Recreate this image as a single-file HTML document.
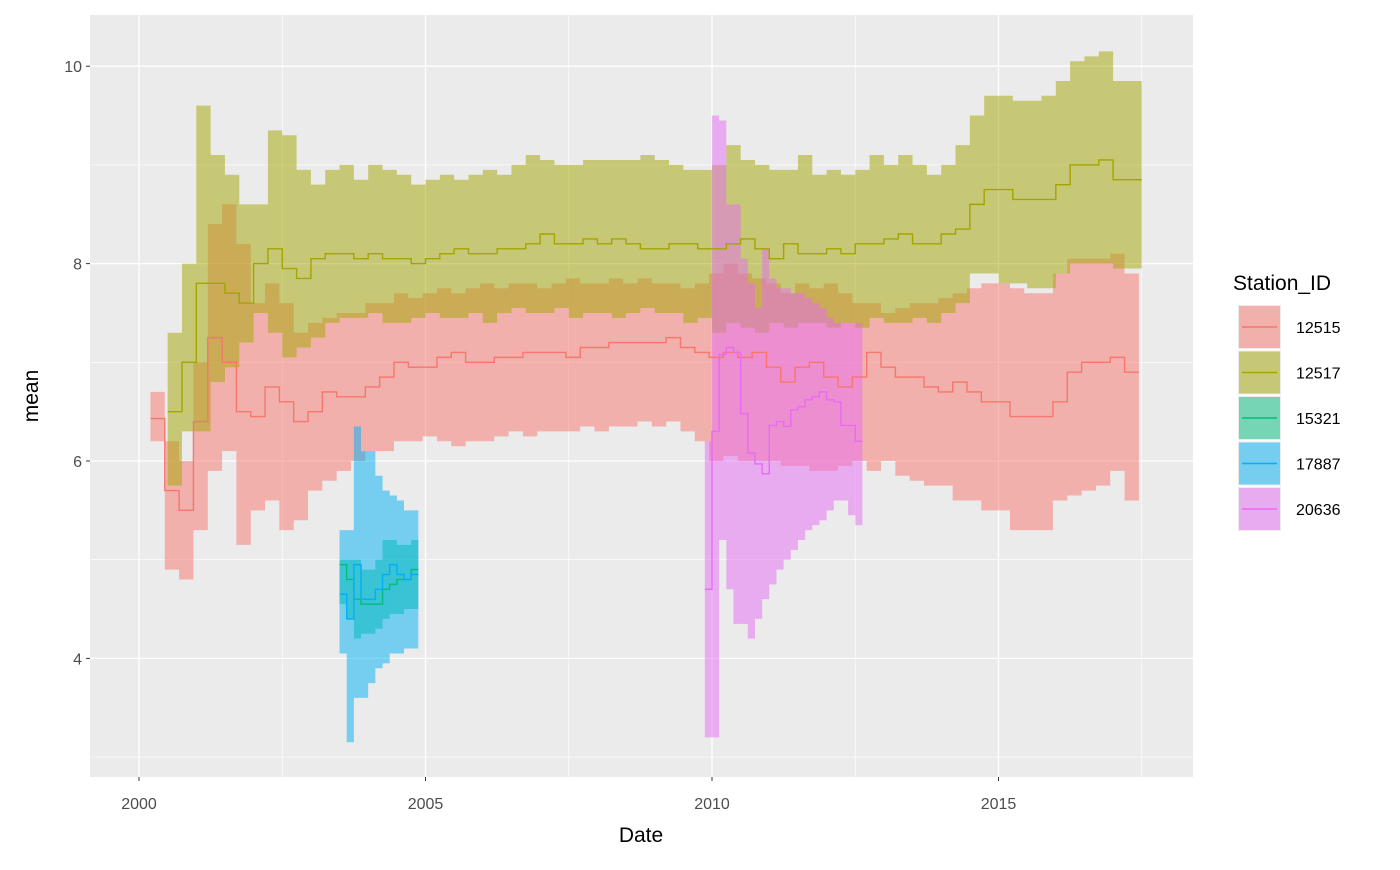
<!DOCTYPE html>
<html><head><meta charset="utf-8"><style>
body{margin:0;background:#fff;}
svg text{font-family:"Liberation Sans",Arial,sans-serif;}
</style></head><body>
<svg id="chart" width="1400" height="865" xmlns="http://www.w3.org/2000/svg">
<rect x="0" y="0" width="1400" height="865" fill="#fff"/>
<rect x="90" y="15" width="1103" height="762" fill="#EBEBEB"/>
<g id="grid"></g>
<g id="ribbons"></g>
<g id="lines"></g>
<g id="axes"></g>
<g id="legend"></g>
</svg>
<script>
const yTicks=[4,6,8,10];
const yMinor=[3,5,7,9];
const xTicks=[2000,2005,2010,2015];
const xMinor=[2002.5,2007.5,2012.5,2017.5];
const stations=["12515","12517","15321","17887","20636"];
const colors=["#F8766D","#A3A500","#00BF7D","#00B0F6","#E76BF3"];
const starts=[2000.2,2000.5,2003.5,2003.5,2009.875];
const steps=[0.25,0.25,0.125,0.125,0.125];
const mean12515=[6.43,5.7,5.5,6.4,7.25,7.0,6.5,6.45,6.75,6.6,6.4,6.5,6.7,6.65,6.65,6.75,6.85,7.0,6.95,6.95,7.05,7.1,7.0,7.0,7.05,7.05,7.1,7.1,7.1,7.05,7.15,7.15,7.2,7.2,7.2,7.2,7.25,7.15,7.1,7.05,7.1,7.05,7.1,6.95,6.8,6.95,7.0,6.85,6.75,6.85,7.1,6.95,6.85,6.85,6.75,6.7,6.8,6.7,6.6,6.6,6.45,6.45,6.45,6.6,6.9,7.0,7.0,7.05,6.9];
const hi12515=[6.7,6.2,6.0,7.0,8.4,8.6,8.2,7.6,7.8,7.6,7.3,7.4,7.45,7.5,7.5,7.6,7.6,7.7,7.65,7.7,7.75,7.7,7.75,7.8,7.75,7.8,7.8,7.75,7.8,7.85,7.8,7.8,7.85,7.8,7.85,7.8,7.8,7.75,7.8,7.9,8.0,7.9,7.85,7.8,7.7,7.8,7.75,7.8,7.7,7.6,7.6,7.5,7.55,7.6,7.6,7.65,7.7,7.75,7.8,7.8,7.75,7.7,7.7,7.9,8.05,8.05,8.05,8.1,7.9];
const lo12515=[6.2,4.9,4.8,5.3,5.9,6.1,5.15,5.5,5.6,5.3,5.4,5.7,5.8,5.9,6.0,6.1,6.1,6.2,6.2,6.25,6.2,6.15,6.2,6.2,6.25,6.3,6.25,6.3,6.3,6.3,6.35,6.3,6.35,6.35,6.4,6.35,6.4,6.3,6.2,6.0,6.05,6.0,6.0,6.0,5.95,5.95,5.9,5.9,5.95,6.0,5.9,6.0,5.85,5.8,5.75,5.75,5.6,5.6,5.5,5.5,5.3,5.3,5.3,5.6,5.65,5.7,5.75,5.9,5.6];
const mean12517=[6.5,7.0,7.8,7.8,7.7,7.6,8.0,8.15,7.95,7.85,8.05,8.1,8.1,8.05,8.1,8.05,8.05,8.0,8.05,8.1,8.15,8.1,8.1,8.15,8.15,8.2,8.3,8.2,8.2,8.25,8.2,8.25,8.2,8.15,8.15,8.2,8.2,8.15,8.15,8.2,8.25,8.15,8.05,8.2,8.1,8.1,8.15,8.1,8.2,8.2,8.25,8.3,8.2,8.2,8.3,8.35,8.6,8.75,8.75,8.65,8.65,8.65,8.8,9.0,9.0,9.05,8.85,8.85];
const hi12517=[7.3,8.0,9.6,9.1,8.9,8.6,8.6,9.35,9.3,8.95,8.8,8.95,9.0,8.85,9.0,8.95,8.9,8.8,8.85,8.9,8.85,8.9,8.95,8.9,9.0,9.1,9.05,9.0,9.0,9.05,9.05,9.05,9.05,9.1,9.05,9.0,8.95,8.95,9.0,9.2,9.05,9.0,8.95,8.95,9.1,8.9,8.95,8.9,8.95,9.1,9.0,9.1,9.0,8.9,9.0,9.2,9.5,9.7,9.7,9.65,9.65,9.7,9.85,10.05,10.1,10.15,9.85,9.85];
const lo12517=[5.75,6.3,6.3,6.8,6.95,7.2,7.5,7.3,7.05,7.15,7.25,7.4,7.45,7.45,7.5,7.4,7.4,7.45,7.5,7.45,7.45,7.5,7.4,7.5,7.55,7.5,7.5,7.55,7.45,7.5,7.5,7.45,7.5,7.55,7.5,7.5,7.4,7.45,7.3,7.4,7.35,7.3,7.4,7.35,7.4,7.4,7.35,7.4,7.35,7.45,7.4,7.4,7.45,7.4,7.5,7.6,7.9,7.9,7.8,7.8,7.75,7.75,7.9,8.0,8.0,8.0,7.95,7.95];
const mean15321=[4.95,4.8,4.6,4.55,4.55,4.55,4.7,4.75,4.8,4.8,4.9];
const hi15321=[5.0,5.0,5.0,4.9,4.9,5.0,5.2,5.2,5.15,5.15,5.2];
const lo15321=[4.55,4.4,4.2,4.25,4.25,4.3,4.4,4.45,4.45,4.5,4.5];
const mean17887=[4.65,4.4,4.95,4.6,4.6,4.7,4.85,4.95,4.85,4.8,4.85];
const hi17887=[5.3,5.3,6.35,6.1,6.1,5.85,5.7,5.65,5.6,5.5,5.5];
const lo17887=[4.05,3.15,3.6,3.6,3.75,3.9,3.95,4.05,4.05,4.1,4.1];
const mean20636=[4.7,6.3,7.08,7.15,7.1,6.48,6.08,5.97,5.87,6.36,6.4,6.35,6.52,6.55,6.62,6.65,6.7,6.62,6.6,6.36,6.36,6.2];
const hi20636=[6.2,9.5,9.45,8.6,8.6,8.05,7.8,7.55,8.15,7.85,7.75,7.75,7.7,7.7,7.65,7.6,7.55,7.45,7.4,7.4,7.4,7.4];
const lo20636=[3.2,3.2,5.2,4.7,4.35,4.35,4.2,4.4,4.6,4.75,4.9,5.0,5.1,5.2,5.3,5.35,5.4,5.5,5.6,5.6,5.45,5.35];

const means=[mean12515,mean12517,mean15321,mean17887,mean20636];
const his=[hi12515,hi12517,hi15321,hi17887,hi20636];
const los=[lo12515,lo12517,lo15321,lo17887,lo20636];

const NS="http://www.w3.org/2000/svg";
function X(t){return 139+(t-2000)*57.3;}
function Y(v){return 461-(v-6)*98.7;}
function mk(tag,attrs,parent){const e=document.createElementNS(NS,tag);for(const k in attrs)e.setAttribute(k,attrs[k]);parent.appendChild(e);return e;}
const grid=document.getElementById('grid'),rib=document.getElementById('ribbons'),lin=document.getElementById('lines'),ax=document.getElementById('axes'),leg=document.getElementById('legend');

yMinor.forEach(v=>{const l=mk('line',{x1:90,x2:1193,y1:Y(v),y2:Y(v),stroke:'#fff','stroke-width':0.6},grid);

});
xMinor.forEach(v=>{const l=mk('line',{x1:X(v),x2:X(v),y1:15,y2:777,stroke:'#fff','stroke-width':0.6},grid);

});
yTicks.forEach(v=>{const l=mk('line',{x1:90,x2:1193,y1:Y(v),y2:Y(v),stroke:'#fff','stroke-width':1.3},grid);


mk('line',{x1:86,x2:90,y1:Y(v),y2:Y(v),stroke:'#333','stroke-width':1},ax);
const t=mk('text',{x:82,y:Y(v)+6,'text-anchor':'end','font-size':16,fill:'#4D4D4D'},ax);t.textContent=v;

});
xTicks.forEach(v=>{const l=mk('line',{x1:X(v),x2:X(v),y1:15,y2:777,stroke:'#fff','stroke-width':1.3},grid);


mk('line',{x1:X(v),x2:X(v),y1:777,y2:781,stroke:'#333','stroke-width':1},ax);
const t=mk('text',{x:X(v),y:809,'text-anchor':'middle','font-size':16,fill:'#4D4D4D'},ax);t.textContent=v;

});
let tt=mk('text',{x:641,y:842,'text-anchor':'middle','font-size':21,fill:'#000'},ax);tt.textContent='Date';


tt=mk('text',{x:38,y:396,'text-anchor':'middle','font-size':21,fill:'#000',transform:'rotate(-90 38 396)'},ax);tt.textContent='mean';



stations.forEach((s,k)=>{
  const m=means[k],h=his[k],lo=los[k],st=starts[k],dt=steps[k];
  let top=[],bot=[],ln=[];
  for(let i=0;i<m.length;i++){
    const x0=X(st+i*dt),x1=X(st+(i+1)*dt);
    top.push(x0+','+Y(h[i]),x1+','+Y(h[i]));
    bot.push(x0+','+Y(lo[i]),x1+','+Y(lo[i]));
    ln.push(x0+','+Y(m[i]),x1+','+Y(m[i]));
  }
  const p=mk('polygon',{points:top.concat(bot.reverse()).join(' '),fill:colors[k],'fill-opacity':0.5},rib);
  
  
  const l=mk('polyline',{points:ln.join(' '),fill:'none',stroke:colors[k],'stroke-width':1.4},lin);
  
  
});

tt=mk('text',{x:1233,y:290,'font-size':21,fill:'#000'},leg);tt.textContent='Station_ID';


stations.forEach((s,k)=>{
  const y0=305+k*45.5;
  const g=mk('g',{},leg);
  
  
  mk('rect',{x:1238,y:y0,width:43,height:44,fill:'#EBEBEB'},g);
  mk('rect',{x:1239,y:y0+1,width:41,height:42,fill:colors[k],'fill-opacity':0.5},g);
  mk('line',{x1:1242,x2:1277,y1:y0+22,y2:y0+22,stroke:colors[k],'stroke-width':1.4},g);
  const t=mk('text',{x:1296,y:y0+28,'font-size':16,fill:'#000'},g);t.textContent=s;
});
</script>
</body></html>
